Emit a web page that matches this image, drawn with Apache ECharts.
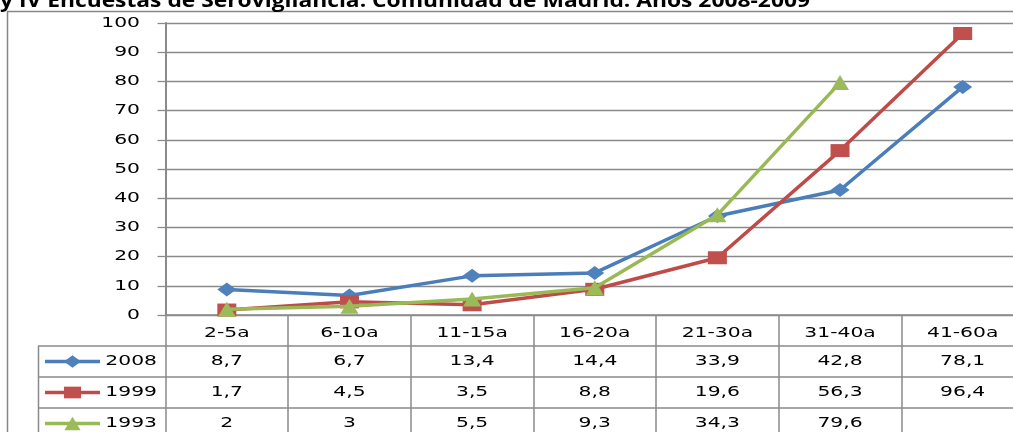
<!DOCTYPE html>
<html><head><meta charset="utf-8">
<script src="https://cdn.jsdelivr.net/npm/echarts@6/dist/echarts.min.js"></script>
<style>html,body{margin:0;padding:0;background:#fff;overflow:hidden}#c{width:1013px;height:432px}</style>
</head><body><div id="c"></div>
<script>
// ---- data ----
const titleText = 'y IV Encuestas de Serovigilancia. Comunidad de Madrid. Años 2008-2009';
const categories = ['2-5a', '6-10a', '11-15a', '16-20a', '21-30a', '31-40a', '41-60a'];
const seriesNames = ['2008', '1999', '1993'];
const values2008 = [8.7, 6.7, 13.4, 14.4, 33.9, 42.8, 78.1];
const values1999 = [1.7, 4.5, 3.5, 8.8, 19.6, 56.3, 96.4];
const values1993 = [2, 3, 5.5, 9.3, 34.3, 79.6, null];
const yMin = 0, yMax = 100, yStep = 10;

// ---- styles ----
const seriesData = [values2008, values1999, values1993];
const lineColors = ['#4A7EBB', '#BE4B48', '#98B954'];
const markColors = ['#4F81BD', '#C0504D', '#9BBB59'];
const symbols = ['diamond', 'rect', 'triangle'];
const symbolSizes = [[19, 14], [19, 13], [18, 15]];
const FONT_FAMILY = '"DejaVu Sans", Verdana, sans-serif';
const FS = 14.5;
const SX = 1.4;
const GRID_COLOR = '#8a8a8a';

const chart = echarts.init(document.getElementById('c'), null, { renderer: 'canvas' });

chart.setOption({
  animation: false,
  grid: { left: 165.5, top: 23, width: 858.5, height: 292, containLabel: false, outerBoundsMode: 'none' },
  xAxis: {
    type: 'category', data: categories, boundaryGap: true,
    axisLine: { show: true, lineStyle: { color: GRID_COLOR, width: 1.5 } },
    axisTick: { show: true, length: 120, lineStyle: { color: GRID_COLOR, width: 1.5 } },
    axisLabel: { show: false }, splitLine: { show: false }
  },
  yAxis: {
    type: 'value', min: yMin, max: yMax, interval: yStep,
    axisLine: { show: true, lineStyle: { color: GRID_COLOR, width: 2 } },
    axisTick: { show: true, length: 8, lineStyle: { color: GRID_COLOR, width: 1.3 } },
    axisLabel: { show: false },
    splitLine: { show: true, lineStyle: { color: GRID_COLOR, width: 1.3 } }
  },
  series: seriesNames.map((n, i) => ({
    name: n, type: 'line', data: seriesData[i],
    symbol: symbols[i], symbolSize: symbolSizes[i], showAllSymbol: true,
    connectNulls: false,
    lineStyle: { color: lineColors[i], width: 3.5 },
    itemStyle: { color: markColors[i] },
    z: 3 + i
  }))
});

function fmt(v) { return v == null ? '' : String(v).replace('.', ','); }

function measure(text, font) {
  const c = document.createElement('canvas').getContext('2d');
  c.font = font;
  return c.measureText(text).width;
}

function markerShape(kind, cx, cy, w, h, color) {
  let pts;
  if (kind === 'diamond') pts = [[cx, cy - h / 2], [cx + w / 2, cy], [cx, cy + h / 2], [cx - w / 2, cy]];
  else if (kind === 'rect') pts = [[cx - w / 2, cy - h / 2], [cx + w / 2, cy - h / 2], [cx + w / 2, cy + h / 2], [cx - w / 2, cy + h / 2]];
  else pts = [[cx, cy - h / 2], [cx + w / 2, cy + h / 2], [cx - w / 2, cy + h / 2]];
  return { type: 'polygon', shape: { points: pts }, style: { fill: color }, z: 10, silent: true };
}

function txt(text, x, y, align, opts) {
  opts = opts || {};
  return {
    type: 'text', x: x, y: y, scaleX: opts.sx || SX, z: 20, silent: true,
    style: {
      text: text, fill: '#000',
      font: (opts.weight || 'normal') + ' ' + (opts.fs || FS) + 'px ' + (opts.family || FONT_FAMILY),
      textAlign: align, textVerticalAlign: opts.va || 'middle'
    }
  };
}

const g = [];
// outer chart border
g.push({ type: 'rect', shape: { x: 7.5, y: 11.5, width: 1040, height: 440 }, style: { fill: null, stroke: '#868686', lineWidth: 1.5 }, z: 1, silent: true });

// title (cut off at top, like the reference)
const TITLE_FAMILY = '"Open Sans", "DejaVu Sans", sans-serif';
const titleFont = 'bold 19px ' + TITLE_FAMILY;
const tw = measure(titleText, titleFont);
g.push(txt(titleText, 0, -8, 'left', { sx: 810 / tw, fs: 19, weight: 'bold', family: TITLE_FAMILY, va: 'top' }));

// y axis labels
for (let v = yMin; v <= yMax; v += yStep) {
  const y = chart.convertToPixel({ yAxisIndex: 0 }, v);
  g.push(txt(String(v), 140, y, 'right'));
}

// data table
const rowLines = [346, 377, 408];
const headerY = 333;
const rowCenters = [361.5, 392.5, 423.5];
rowLines.forEach(y => g.push({ type: 'line', shape: { x1: 38, y1: y, x2: 1040, y2: y }, style: { stroke: GRID_COLOR, lineWidth: 1.5 }, z: 1, silent: true }));
g.push({ type: 'line', shape: { x1: 38.5, y1: 346, x2: 38.5, y2: 440 }, style: { stroke: GRID_COLOR, lineWidth: 1.5 }, z: 1, silent: true });

categories.forEach((c, j) => {
  const x = chart.convertToPixel({ xAxisIndex: 0 }, c);
  g.push(txt(c, x, headerY, 'center'));
  seriesData.forEach((arr, i) => {
    if (arr[j] != null) g.push(txt(fmt(arr[j]), x, rowCenters[i], 'center'));
  });
});

seriesNames.forEach((n, i) => {
  const y = rowCenters[i];
  g.push({ type: 'line', shape: { x1: 45, y1: y, x2: 100, y2: y }, style: { stroke: lineColors[i], lineWidth: 3.5 }, z: 9, silent: true });
  const s = symbolSizes[i];
  g.push(markerShape(symbols[i], 72.5, y, s[0] * 0.9, s[1] * 0.9, markColors[i]));
  g.push(txt(n, 157, y, 'right'));
});

chart.setOption({ graphic: { elements: g } });
</script>
</body></html>
